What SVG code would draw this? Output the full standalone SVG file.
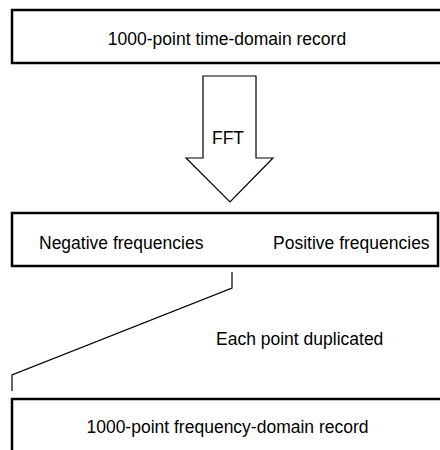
<svg xmlns="http://www.w3.org/2000/svg" width="440" height="450" viewBox="0 0 440 450">
<style>
.box{fill:#fff;stroke:#000;stroke-width:2.5}
.t{font-family:"Liberation Sans",Arial,sans-serif;font-size:17.5px;fill:#000}
.m{text-anchor:middle}
.ln{fill:none;stroke:#000;stroke-width:1.2}
</style>
<rect width="440" height="450" fill="#fff"/>
<g id="time-record">
<rect class="box" x="12" y="10" width="440" height="53"/>
<text class="t m" x="227" y="45">1000-point time-domain record</text>
</g>
<g id="fft-arrow">
<polygon class="ln" fill="#fff" points="203,76 256,76 256,158 273,158 230,202 186,158 203,158"/>
<text class="t m" x="228" y="144">FFT</text>
</g>
<g id="spectrum">
<rect class="box" x="12" y="213" width="426" height="53"/>
<text class="t" x="39" y="249">Negative frequencies</text>
<text class="t" x="273" y="249">Positive frequencies</text>
</g>
<g id="connectors">
<polyline class="ln" points="232,272 232,288 12,375 12,391"/>
</g>
<text class="t" x="216" y="345">Each point duplicated</text>
<g id="freq-record">
<rect class="box" x="12" y="399" width="440" height="60"/>
<text class="t m" x="227.5" y="433">1000-point frequency-domain record</text>
</g>
</svg>
